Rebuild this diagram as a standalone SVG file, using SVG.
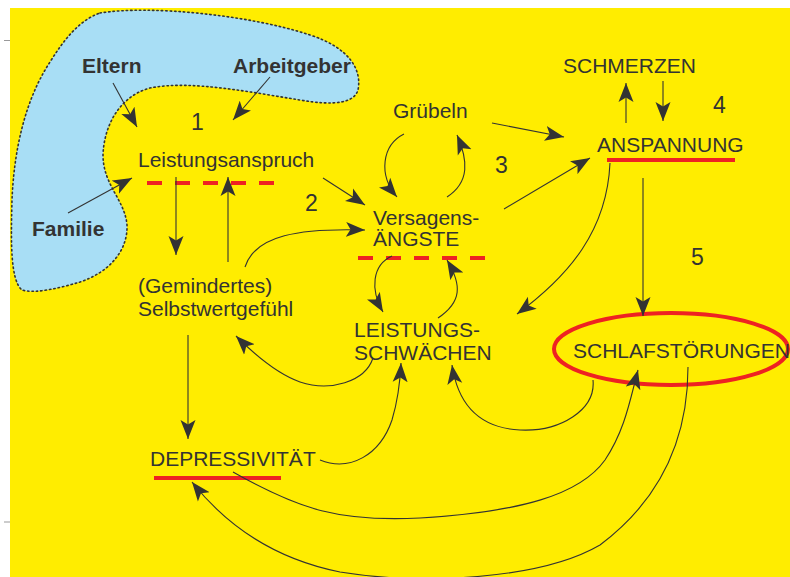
<svg xmlns="http://www.w3.org/2000/svg" width="790" height="577" viewBox="0 0 790 577">
<defs>
<style>
.t{font-family:"Liberation Sans",Arial,Helvetica,sans-serif;font-size:21px;fill:#333}
.b{font-weight:bold}
.n{font-size:23px}
.c{fill:none;stroke:#333;stroke-width:1.1}
.red{stroke:#EE2222;stroke-width:4;fill:none}
.dash{stroke-dasharray:15 13}
</style>
<marker id="ah" markerUnits="userSpaceOnUse" markerWidth="20" markerHeight="16" viewBox="0 0 20 16" refX="19" refY="8" orient="auto">
<path d="M0,0.5 L19,8 L0,15.5 L4.5,8 Z" fill="#333"/>
</marker>
</defs>
<rect x="0" y="0" width="790" height="577" fill="#ffffff"/>
<rect x="10" y="8" width="780" height="569" fill="#FFED00"/>
<line x1="4" y1="40.5" x2="10" y2="40.5" stroke="#999" stroke-width="1"/>
<line x1="4" y1="522" x2="10" y2="522" stroke="#999" stroke-width="1"/>
<g id="umfeld">
<path d="M100,13 C150,5 250,15 310,35 C350,48 362,70 358,90 C354,103 335,106 300,100 C250,92 190,80 150,88 C120,96 104,125 103,155 C103,185 125,200 127,225 C128,250 110,272 80,282 C60,288 35,294 22,290 C10,280 11,240 12,200 C14,150 25,100 50,62 C65,38 80,20 100,13 Z" fill="#A8DEF5" stroke="#333" stroke-width="1.6" stroke-dasharray="1.4 3" stroke-linecap="round"/>
</g>
<g id="eltern"><text class="t b" x="82" y="73">Eltern</text></g>
<g id="arbeitgeber"><text class="t b" x="233" y="73">Arbeitgeber</text></g>
<g id="familie"><text class="t b" x="32" y="236">Familie</text></g>
<g id="labels">
<text class="t n" x="191" y="130">1</text>
<text class="t n" x="305" y="211">2</text>
<text class="t n" x="495" y="173">3</text>
<text class="t n" x="713" y="113">4</text>
<text class="t n" x="691" y="265">5</text>
</g>
<g id="leistungsanspruch">
<text class="t" x="138" y="167">Leistungsanspruch</text>
<line class="red dash" x1="147" y1="183" x2="275" y2="183"/>
</g>
<g id="selbstwert">
<text class="t" x="138" y="293">(Gemindertes)</text>
<text class="t" x="138" y="316">Selbstwertgefühl</text>
</g>
<g id="depressivitaet">
<text class="t" x="150" y="466">DEPRESSIVITÄT</text>
<line class="red" x1="154" y1="478" x2="281" y2="478"/>
</g>
<g id="gruebeln"><text class="t" x="393" y="118">Grübeln</text></g>
<g id="versagensaengste">
<text class="t" x="373" y="225">Versagens-</text>
<text class="t" x="373" y="246">ÄNGSTE</text>
<line class="red dash" x1="358" y1="258" x2="486" y2="258"/>
</g>
<g id="leistungsschwaechen">
<text class="t" x="354" y="337">LEISTUNGS-</text>
<text class="t" x="354" y="360">SCHWÄCHEN</text>
</g>
<g id="schmerzen"><text class="t" x="563" y="73">SCHMERZEN</text></g>
<g id="anspannung">
<text class="t" x="597" y="152">ANSPANNUNG</text>
<line class="red" x1="607" y1="160" x2="735" y2="160"/>
</g>
<g id="schlafstoerungen">
<ellipse class="red" cx="671" cy="349" rx="117" ry="36"/>
<text class="t" x="573" y="358">SCHLAFSTÖRUNGEN</text>
</g>
<g id="connectors">
<path class="c" marker-end="url(#ah)" d="M113,83 L137,127"/>
<path class="c" marker-end="url(#ah)" d="M270,77 L233,120"/>
<path class="c" marker-end="url(#ah)" d="M68,213 L132,178"/>
<path class="c" marker-end="url(#ah)" d="M176,177 L176,255"/>
<path class="c" marker-end="url(#ah)" d="M228,262 L228,177"/>
<path class="c" marker-end="url(#ah)" d="M323,178 L365,205"/>
<path class="c" marker-end="url(#ah)" d="M245,267 C255,235 300,228 365,230"/>
<path class="c" marker-end="url(#ah)" d="M404,134 C382,145 378,175 397,197"/>
<path class="c" marker-end="url(#ah)" d="M447,197 C470,182 468,160 457,135"/>
<path class="c" marker-end="url(#ah)" d="M492,123 L564,137"/>
<path class="c" marker-end="url(#ah)" d="M504,209 L590,158"/>
<path class="c" marker-end="url(#ah)" d="M626,123 L626,83"/>
<path class="c" marker-end="url(#ah)" d="M663,81 L663,121"/>
<path class="c" marker-end="url(#ah)" d="M610,163 C607,230 570,275 517,314"/>
<path class="c" marker-end="url(#ah)" d="M643,178 L643,316"/>
<path class="c" marker-end="url(#ah)" d="M392,256 C372,265 370,290 383,312"/>
<path class="c" marker-end="url(#ah)" d="M438,318 C462,302 462,285 447,260"/>
<path class="c" marker-end="url(#ah)" d="M373,358 C365,382 330,392 300,382 C280,375 260,360 236,336"/>
<path class="c" marker-end="url(#ah)" d="M320,460 C350,472 380,455 392,420 C398,400 400,385 401,363"/>
<path class="c" marker-end="url(#ah)" d="M593,380 C596,410 560,432 520,430 C480,428 458,405 452,365"/>
<path class="c" marker-end="url(#ah)" d="M188,335 L188,439"/>
<path class="c" marker-end="url(#ah)" d="M233,472 C300,510 340,522 420,518 C520,512 580,495 605,460 C625,430 630,400 638,370"/>
<path class="c" marker-end="url(#ah)" d="M688,367 C688,440 660,500 600,545 C540,580 420,585 340,572 C280,560 230,530 192,482"/>
</g>
</svg>
